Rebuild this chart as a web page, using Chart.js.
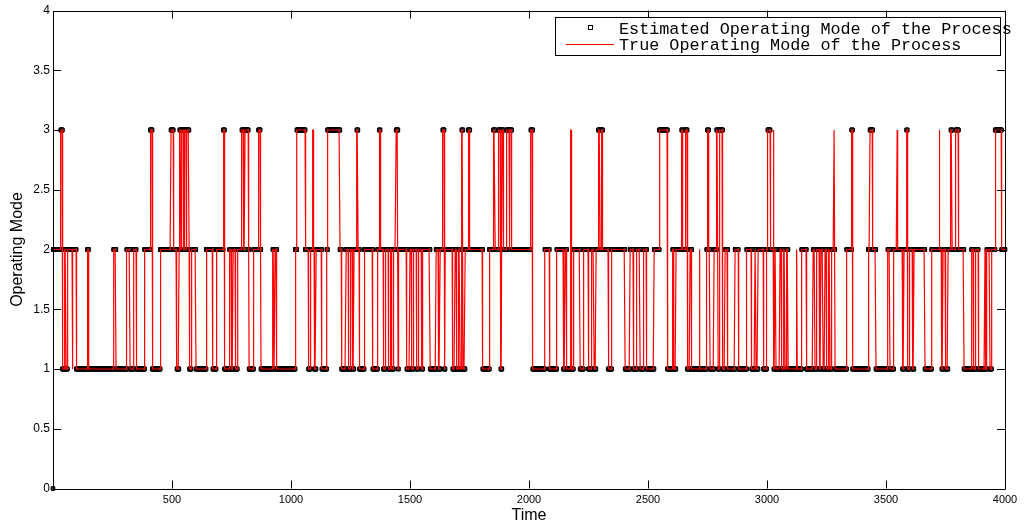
<!DOCTYPE html>
<html>
<head>
<meta charset="utf-8">
<script src="https://cdn.jsdelivr.net/npm/chart.js@4.4.1/dist/chart.umd.min.js"></script>
<style>
  html, body { margin: 0; padding: 0; background: #ffffff; }
  canvas { display: block; }
</style>
</head>
<body>
<canvas id="modeChart" width="1024" height="525"></canvas>
<script>
// Operating mode of the process as runs: a run starts at runStart[i] and keeps runMode[i]
// until the next run starts.
const runStart = [
  1, 33, 40, 50, 55, 61, 81, 83, 98, 145, 150, 255, 265, 310, 324, 338, 350, 385, 409, 417,
  451, 496, 506, 521, 530, 533, 538, 542, 548, 552, 560, 562, 572, 574, 581, 601, 644, 672, 686, 716,
  721, 742, 749, 757, 766, 775, 794, 801, 807, 821, 824, 843, 864, 871, 874, 924, 929, 933, 941, 1018,
  1025, 1060, 1074, 1081, 1092, 1094, 1098, 1106, 1130, 1151, 1154, 1206, 1213, 1232, 1241, 1251, 1260, 1265, 1277, 1282,
  1288, 1308, 1344, 1364, 1371, 1375, 1389, 1396, 1410, 1417, 1424, 1431, 1442, 1450, 1452, 1487, 1500, 1508, 1514, 1529,
  1535, 1550, 1554, 1585, 1610, 1620, 1627, 1638, 1644, 1648, 1680, 1690, 1697, 1704, 1711, 1718, 1723, 1732, 1745, 1752,
  1806, 1834, 1851, 1858, 1872, 1882, 1887, 1893, 1907, 1918, 1920, 1928, 2008, 2016, 2067, 2086, 2117, 2145, 2152, 2159,
  2176, 2178, 2187, 2215, 2229, 2250, 2264, 2274, 2282, 2292, 2299, 2304, 2310, 2333, 2348, 2404, 2425, 2439, 2453, 2467,
  2481, 2495, 2526, 2548, 2582, 2604, 2609, 2618, 2642, 2647, 2657, 2665, 2677, 2684, 2716, 2718, 2747, 2750, 2755, 2761,
  2778, 2789, 2795, 2800, 2814, 2824, 2836, 2866, 2880, 2915, 2936, 2950, 2954, 2963, 2985, 2999, 3004, 3014, 3027, 3029,
  3034, 3038, 3055, 3062, 3069, 3076, 3083, 3089, 3125, 3127, 3146, 3166, 3194, 3202, 3209, 3220, 3227, 3236, 3244, 3251,
  3258, 3265, 3272, 3282, 3286, 3335, 3356, 3360, 3426, 3433, 3445, 3458, 3508, 3517, 3533, 3547, 3549, 3570, 3576, 3587,
  3590, 3598, 3612, 3618, 3664, 3692, 3724, 3726, 3735, 3740, 3752, 3761, 3773, 3778, 3794, 3805, 3828, 3860, 3867, 3878,
  3888, 3916, 3918, 3924, 3937, 3944, 3959, 3986
];
const runMode = [
  2, 3, 1, 2, 1, 2, 1, 2, 1, 2, 1, 2, 1, 2, 1, 2, 1, 2, 3, 1,
  2, 3, 2, 1, 2, 3, 2, 3, 2, 3, 2, 3, 2, 1, 2, 1, 2, 1, 2, 3,
  1, 2, 1, 2, 1, 2, 3, 2, 3, 2, 1, 2, 3, 2, 1, 2, 1, 2, 1, 2,
  3, 2, 1, 2, 3, 2, 1, 2, 1, 2, 3, 2, 1, 2, 1, 2, 1, 2, 3, 2,
  1, 2, 1, 2, 3, 2, 1, 2, 1, 2, 1, 2, 3, 1, 2, 1, 2, 1, 2, 1,
  2, 1, 2, 1, 2, 1, 2, 3, 1, 2, 1, 2, 1, 2, 1, 3, 1, 2, 3, 2,
  1, 2, 3, 2, 3, 1, 3, 2, 3, 2, 3, 2, 3, 1, 2, 1, 2, 1, 2, 1,
  3, 1, 2, 1, 2, 1, 2, 1, 2, 3, 2, 3, 2, 1, 2, 1, 2, 1, 2, 1,
  2, 1, 2, 3, 1, 2, 1, 2, 3, 2, 3, 1, 2, 1, 2, 1, 2, 3, 2, 1,
  2, 3, 1, 3, 1, 2, 1, 2, 1, 2, 1, 2, 1, 2, 1, 2, 3, 2, 3, 1,
  2, 1, 2, 1, 2, 1, 2, 1, 2, 1, 2, 1, 2, 1, 2, 1, 2, 1, 2, 1,
  2, 1, 2, 3, 1, 2, 3, 1, 2, 3, 2, 1, 2, 1, 2, 3, 2, 1, 2, 3,
  1, 2, 1, 2, 1, 2, 3, 2, 1, 2, 1, 2, 3, 2, 3, 2, 1, 2, 1, 2,
  1, 2, 1, 2, 1, 2, 3, 2
];
// Short true-mode runs that the estimator did not follow (it keeps the previous mode there).
const missedRunStart = [81, 1092, 2176, 2716, 3027, 3125, 3282, 3547, 3724, 3916];
// First estimate, before the process starts.
const estInitialTime = 0;
const estInitialMode = 0;
const timeEnd = 4000;

const xTickValues = [500, 1000, 1500, 2000, 2500, 3000, 3500, 4000];
const yTickStep = 0.5;
const seriesLabels = ['Estimated Operating Mode of the Process', 'True Operating Mode of the Process'];

// Expand the runs into one sample per time step.
const truePoints = [];
const estPoints = [{ x: estInitialTime, y: estInitialMode }];
let run = 0;
for (let t = 1; t <= timeEnd; t++) {
  while (run + 1 < runStart.length && runStart[run + 1] <= t) run++;
  truePoints.push({ x: t, y: runMode[run] });
  const missed = run > 0 && missedRunStart.includes(runStart[run]);
  estPoints.push({ x: t, y: missed ? runMode[run - 1] : runMode[run] });
}

const TICK_LEN = 8;

// Box around the axes with inward tick marks on all four sides.
const framePlugin = {
  id: 'frame',
  afterDraw(chart) {
    const { ctx, chartArea: a, scales } = chart;
    ctx.save();
    ctx.strokeStyle = '#000000';
    ctx.lineWidth = 1;
    ctx.beginPath();
    ctx.rect(Math.round(a.left) + 0.5, Math.round(a.top) + 0.5,
             Math.round(a.right - a.left), Math.round(a.bottom - a.top));
    ctx.stroke();
    ctx.beginPath();
    scales.x.ticks.forEach(tk => {
      const px = Math.round(scales.x.getPixelForValue(tk.value)) + 0.5;
      ctx.moveTo(px, a.bottom); ctx.lineTo(px, a.bottom - TICK_LEN);
      ctx.moveTo(px, a.top); ctx.lineTo(px, a.top + TICK_LEN);
    });
    scales.y.ticks.forEach(tk => {
      const py = Math.round(scales.y.getPixelForValue(tk.value)) + 0.5;
      ctx.moveTo(a.left, py); ctx.lineTo(a.left + TICK_LEN, py);
      ctx.moveTo(a.right, py); ctx.lineTo(a.right - TICK_LEN, py);
    });
    ctx.stroke();
    ctx.restore();
  }
};

// Boxed legend in the upper right corner of the axes.
const boxLegendPlugin = {
  id: 'boxLegend',
  afterDraw(chart) {
    const { ctx } = chart;
    const ds = chart.data.datasets;
    const box = { left: 555.5, top: 17.5, right: 1000.5, bottom: 55.5 };
    ctx.save();
    ctx.fillStyle = '#ffffff';
    ctx.fillRect(box.left, box.top, box.right - box.left, box.bottom - box.top);
    ctx.strokeStyle = '#000000';
    ctx.lineWidth = 1;
    ctx.strokeRect(box.left, box.top, box.right - box.left, box.bottom - box.top);

    // estimated: hollow square marker only
    ctx.strokeStyle = ds[0].pointBorderColor;
    ctx.lineWidth = 1;
    ctx.strokeRect(588.5, 25.5, 4, 4);

    // true: line only
    ctx.beginPath();
    ctx.strokeStyle = ds[1].borderColor;
    ctx.lineWidth = 1.2;
    ctx.moveTo(566, 44.5);
    ctx.lineTo(614, 44.5);
    ctx.stroke();

    ctx.fillStyle = '#000000';
    ctx.font = '16.8px "Liberation Mono", "DejaVu Sans Mono", monospace';
    ctx.textBaseline = 'alphabetic';
    ctx.textAlign = 'left';
    ctx.fillText(ds[0].label, 619, 33.5);
    ctx.fillText(ds[1].label, 619, 50);
    ctx.restore();
  }
};

new Chart(document.getElementById('modeChart'), {
  type: 'line',
  data: {
    datasets: [
      {
        label: seriesLabels[0],
        data: estPoints,
        showLine: false,
        pointStyle: 'rect',
        pointRadius: 2.6,
        pointBorderWidth: 1,
        pointBorderColor: '#000000',
        pointBackgroundColor: '#3a3a3a',
        pointHoverRadius: 2.6,
        clip: false,
        order: 2
      },
      {
        label: seriesLabels[1],
        data: truePoints,
        borderColor: '#ff0000',
        borderWidth: 1.2,
        pointRadius: 0,
        tension: 0,
        fill: false,
        order: 1
      }
    ]
  },
  options: {
    responsive: false,
    animation: false,
    parsing: false,
    normalized: true,
    events: [],
    layout: { padding: { left: 0, right: 19, top: 10.5, bottom: 0 } },
    plugins: {
      legend: { display: false },
      tooltip: { enabled: false }
    },
    scales: {
      x: {
        type: 'linear',
        min: 0,
        max: timeEnd,
        grid: { display: false, drawTicks: false },
        border: { display: false },
        afterBuildTicks(scale) { scale.ticks = xTickValues.map(v => ({ value: v })); },
        afterFit(scale) { scale.height = 36.5; },
        ticks: {
          color: '#000000',
          padding: 5,
          maxRotation: 0,
          autoSkip: false,
          font: { family: 'Liberation Sans', size: 11 },
          callback: v => String(v)
        },
        title: {
          display: true,
          text: 'Time',
          color: '#000000',
          font: { family: 'Liberation Sans', size: 16 },
          padding: { top: 0, bottom: 0 }
        }
      },
      y: {
        min: 0,
        max: 4,
        grid: { display: false, drawTicks: false },
        border: { display: false },
        afterFit(scale) { scale.width = 53; },
        ticks: {
          stepSize: yTickStep,
          color: '#000000',
          padding: 3,
          font: { family: 'Liberation Sans', size: 12 },
          callback: v => String(v)
        },
        title: {
          display: true,
          text: 'Operating Mode',
          color: '#000000',
          font: { family: 'Liberation Sans', size: 16 },
          padding: { top: 8, bottom: 0 }
        }
      }
    }
  },
  plugins: [framePlugin, boxLegendPlugin]
});
</script>
</body>
</html>
